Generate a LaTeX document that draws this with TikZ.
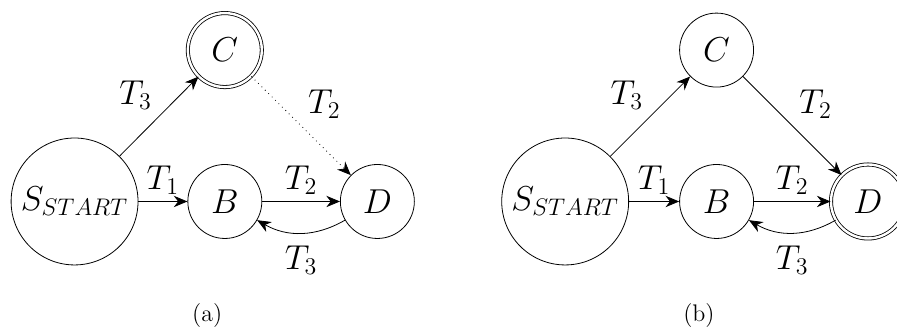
\documentclass[tikz,border=0pt]{standalone}
\usepackage{amsmath, amssymb}
\usepackage{tikz}
\usetikzlibrary{arrows.meta, positioning}

\begin{document}
\begin{tikzpicture}[
    vertex/.style={circle, draw, minimum size=1.3cm, font=\LARGE},
    startvertex/.style={circle, draw, minimum size=2.23cm, inner sep=1pt, font=\LARGE},
    accept/.style={double, double distance=1.2pt},
    trans/.style={-{Stealth[length=2.4mm, width=2mm]}},
    lbl/.style={font=\LARGE}
]
    \useasboundingbox (0, 0) rectangle (15.76, 5.75);

    % (a)
    \node[startvertex] (sa) at (1.31, 2.21) {$S_{START}$};
    \node[vertex] (ba) at (3.95, 2.21) {$B$};
    \node[vertex, accept] (ca) at (3.95, 4.87) {$C$};
    \node[vertex] (da) at (6.63, 2.21) {$D$};

    \draw[trans] (sa) -- node[lbl, above] {$T_1$} (ba);
    \draw[trans] (sa) -- node[lbl, above left] {$T_3$} (ca);
    \draw[trans] (ba) -- node[lbl, above] {$T_2$} (da);
    \draw[trans, dotted] (ca) -- node[lbl, above right] {$T_2$} (da);
    \draw[trans] (da) to[bend left=30] node[lbl, below=3pt] {$T_3$} (ba);

    \node[font=\large] (capa) at (3.64, 0.2) {(a)};

    % (b)
    \node[startvertex] (sb) at (9.93, 2.21) {$S_{START}$};
    \node[vertex] (bb) at (12.59, 2.21) {$B$};
    \node[vertex] (cb) at (12.59, 4.87) {$C$};
    \node[vertex, accept] (db) at (15.25, 2.21) {$D$};

    \draw[trans] (sb) -- node[lbl, above] {$T_1$} (bb);
    \draw[trans] (sb) -- node[lbl, above left] {$T_3$} (cb);
    \draw[trans] (bb) -- node[lbl, above] {$T_2$} (db);
    \draw[trans] (cb) -- node[lbl, above right] {$T_2$} (db);
    \draw[trans] (db) to[bend left=30] node[lbl, below=3pt] {$T_3$} (bb);

    \node[font=\large] (capb) at (12.28, 0.2) {(b)};
\end{tikzpicture}
\end{document}
